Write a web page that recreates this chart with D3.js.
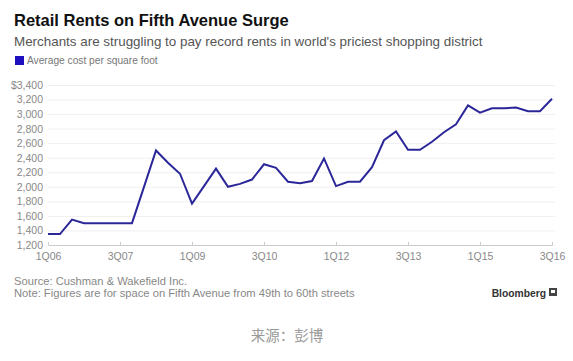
<!DOCTYPE html>
<html>
<head>
<meta charset="utf-8">
<script src="https://cdn.jsdelivr.net/npm/d3@7"></script>
<style>
  html, body { margin: 0; padding: 0; background: #fff; }
  svg { display: block; }
</style>
</head>
<body>
<svg id="chart" width="573" height="361"></svg>
<script>
const quarters = ["1Q06","2Q06","3Q06","4Q06","1Q07","2Q07","3Q07","4Q07",
  "1Q08","2Q08","3Q08","4Q08","1Q09","2Q09","3Q09","4Q09",
  "1Q10","2Q10","3Q10","4Q10","1Q11","2Q11","3Q11","4Q11",
  "1Q12","2Q12","3Q12","4Q12","1Q13","2Q13","3Q13","4Q13",
  "1Q14","2Q14","3Q14","4Q14","1Q15","2Q15","3Q15","4Q15",
  "1Q16","2Q16","3Q16"];
const rents = [1350,1350,1550,1500,1500,1500,1500,1500,
  2000,2500,2330,2180,1770,2010,2250,2000,
  2040,2100,2310,2260,2070,2050,2080,2390,
  2010,2070,2070,2270,2640,2760,2510,2510,
  2620,2750,2860,3120,3020,3080,3080,3090,
  3040,3040,3210];
const xTickLabels = ["1Q06","3Q07","1Q09","3Q10","1Q12","3Q13","1Q15","3Q16"];
const yTicks = [1200,1400,1600,1800,2000,2200,2400,2600,2800,3000,3200,3400];

const svg = d3.select("#chart");
const font = "'Liberation Sans', Arial, Helvetica, sans-serif";

const x = d3.scalePoint().domain(quarters).range([48, 552]);
const y = d3.scaleLinear().domain([1200, 3400]).range([245, 85]);

// Title
svg.append("text").attr("x", 14).attr("y", 26)
  .attr("font-family", font).attr("font-weight", "bold").attr("font-size", 16.5)
  .attr("fill", "#111").text("Retail Rents on Fifth Avenue Surge");
svg.append("text").attr("x", 14).attr("y", 46)
  .attr("font-family", font).attr("font-size", 13.4)
  .attr("fill", "#555").text("Merchants are struggling to pay record rents in world's priciest shopping district");

// Legend
svg.append("rect").attr("x", 15).attr("y", 56).attr("width", 9).attr("height", 9).attr("fill", "#1e10c0");
svg.append("text").attr("x", 27).attr("y", 64)
  .attr("font-family", font).attr("font-size", 10.2)
  .attr("fill", "#777").text("Average cost per square foot");

// Gridlines + y labels
const yAxis = d3.axisLeft(y).tickValues(yTicks)
  .tickSize(-(555 - 48))
  .tickFormat(d => d === 3400 ? "$" + d3.format(",")(d) : d3.format(",")(d));
const gy = svg.append("g").attr("transform", "translate(48,0)").call(yAxis);
gy.select(".domain").remove();
gy.selectAll(".tick line").attr("stroke", "#efefef").attr("stroke-width", 1);
gy.selectAll(".tick text").attr("x", -5).attr("fill", "#888")
  .attr("font-family", font).attr("font-size", 10.5);

// X axis
const xAxis = d3.axisBottom(x).tickValues(xTickLabels).tickSizeInner(-3).tickSizeOuter(0).tickPadding(8);
const gx = svg.append("g").attr("transform", "translate(0,245)").call(xAxis);
gx.select(".domain").attr("stroke", "#ccc");
gx.selectAll(".tick line").attr("stroke", "#ccc");
gx.selectAll(".tick text").attr("fill", "#888")
  .attr("font-family", font).attr("font-size", 10.5);

// Line
const line = d3.line().x((d, i) => x(quarters[i])).y(d => y(d));
svg.append("path").datum(rents)
  .attr("d", line).attr("fill", "none")
  .attr("stroke", "#2c2799").attr("stroke-width", 2).attr("stroke-linejoin", "miter");

// Footer
svg.append("text").attr("x", 14).attr("y", 285)
  .attr("font-family", font).attr("font-size", 11.2)
  .attr("fill", "#888").text("Source: Cushman & Wakefield Inc.");
svg.append("text").attr("x", 14).attr("y", 297)
  .attr("font-family", font).attr("font-size", 11.2)
  .attr("fill", "#888").text("Note: Figures are for space on Fifth Avenue from 49th to 60th streets");
svg.append("text").attr("x", 546).attr("y", 297).attr("text-anchor", "end")
  .attr("font-family", font).attr("font-weight", "bold").attr("font-size", 10.3)
  .attr("fill", "#333").text("Bloomberg");
// Bloomberg logo glyph
svg.append("rect").attr("x", 549).attr("y", 288).attr("width", 8).attr("height", 8).attr("fill", "#444");
svg.append("rect").attr("x", 551).attr("y", 290).attr("width", 4).attr("height", 3).attr("fill", "#fff");

svg.append("text").attr("x", 287).attr("y", 341).attr("text-anchor", "middle")
  .attr("font-family", "'Noto Sans CJK SC', sans-serif").attr("font-size", 14.5)
  .attr("fill", "#999").text("来源：彭博");
</script>
</body>
</html>
